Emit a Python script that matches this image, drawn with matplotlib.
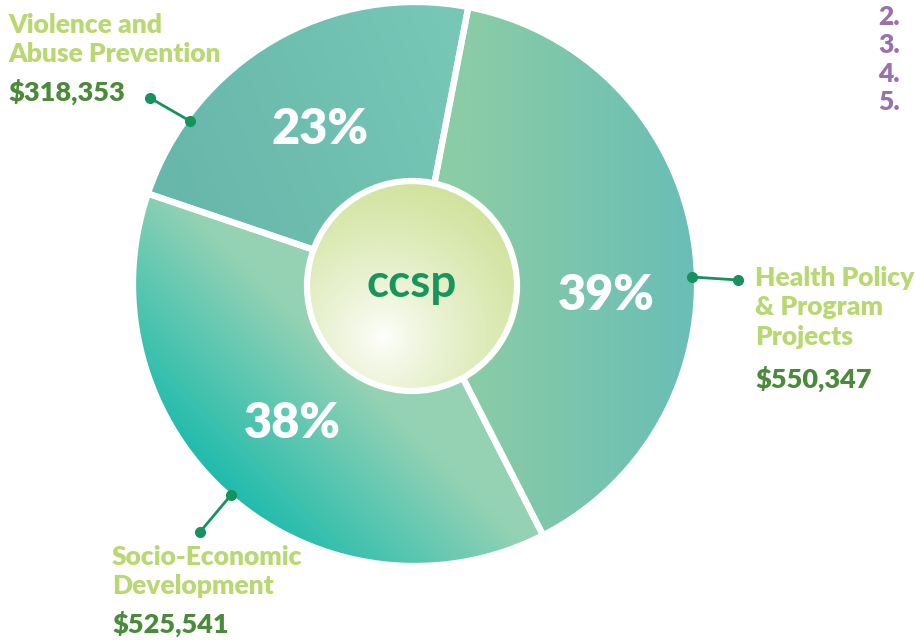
import numpy as np
import matplotlib
matplotlib.use("Agg")
import matplotlib.pyplot as plt
from matplotlib.patches import Wedge, Circle
from matplotlib.colors import to_rgb

# ---- data ----
categories = ["Health Policy\n& Program\nProjects", "Socio-Economic\nDevelopment", "Violence and\nAbuse Prevention"]
amounts = [550347, 525541, 318353]
amount_labels = ["$550,347", "$525,541", "$318,353"]
center_label = "ccsp"
side_numbers = ["2.", "3.", "4.", "5."]

W, H = 915, 640
fig = plt.figure(figsize=(W / 100, H / 100), dpi=100)
ax = fig.add_axes([0, 0, 1, 1])
ax.set_xlim(0, W)
ax.set_ylim(0, H)
ax.axis("off")

FONT = ["Lato", "DejaVu Sans"]
LIGHT = "#b9d872"
DARK = "#4a8a3a"
LINE = "#16935d"


def P(x, y):
    return (x, H - y)


def grad_image(clip, bbox, tfunc, c0, c1, z=1):
    x0, x1, y0, y1 = bbox
    n = 400
    X, Y = np.meshgrid(np.linspace(x0, x1, n), np.linspace(y0, y1, n))
    t = np.clip(tfunc(X, Y), 0, 1)[..., None]
    img = np.array(to_rgb(c0)) * (1 - t) + np.array(to_rgb(c1)) * t
    im = ax.imshow(img, extent=(x0, x1, y0, y1), origin="lower",
                   interpolation="bilinear", zorder=z, aspect="auto")
    im.set_clip_path(clip)


def linear(p0, p1):
    dx, dy = p1[0] - p0[0], p1[1] - p0[1]
    return lambda X, Y: ((X - p0[0]) * dx + (Y - p0[1]) * dy) / (dx * dx + dy * dy)


def radial(c, r, gamma=1.0):
    return lambda X, Y: (np.sqrt((X - c[0]) ** 2 + (Y - c[1]) ** 2) / r) ** gamma


# ---- donut geometry ----
cx, cy = P(415, 284)
R = 280
start = 79.1
total = sum(amounts)
fracs = [a / total for a in amounts]

grads = [
    (linear(P(470, 260), P(695, 260)), "#8acca6", "#69beb6"),
    (linear(P(200, 488), P(335, 353)), "#15b9ac", "#95d2b4"),
    (linear(P(170, 170), P(450, 60)), "#68b7ab", "#76c7b6"),
]

bbox = (cx - R - 5, cx + R + 5, cy - R - 5, cy + R + 5)
cum = 0.0
for i, f in enumerate(fracs):
    t2 = start - 360 * cum
    t1 = t2 - 360 * f
    cum += f
    clip = Wedge((cx, cy), R, t1, t2, transform=ax.transData, facecolor="none", edgecolor="none")
    g = grads[i]
    grad_image(clip, bbox, g[0], g[1], g[2], z=1)
    ax.add_patch(Wedge((cx, cy), R + 2, t1, t2, facecolor="none", edgecolor="white",
                       linewidth=4.5, zorder=2))

# ---- centre circle ----
icx, icy = P(412, 286)
ir = 105
circ_clip = Circle((icx, icy), ir, transform=ax.transData)
grad_image(circ_clip, (icx - ir, icx + ir, icy - ir, icy + ir),
           radial(P(383, 337), 165, 0.8), "#ffffff", "#cfe29a", z=3)
ax.add_patch(Circle((icx, icy), ir, facecolor="none", edgecolor="white", linewidth=4.5, zorder=4))
ax.text(icx, icy + 2, center_label, ha="center", va="center", fontsize=33,
        color="#17955c", family=FONT, fontweight="bold", zorder=5)

# ---- percentages ----
pct_pos = [P(606, 296), P(292, 424), P(320, 129)]
for f, pos in zip(fracs, pct_pos):
    ax.text(pos[0], pos[1], f"{round(f * 100)}%", ha="center", va="center",
            fontsize=35, color="white", family=FONT, fontweight="heavy", zorder=5)

# ---- labels & leaders ----
leaders = [(P(692, 277), P(738, 280)), (P(231, 495), P(200, 532)), (P(190, 121), P(150, 98))]
for a, b in leaders:
    ax.plot([a[0], b[0]], [a[1], b[1]], color=LINE, lw=2, zorder=6,
            marker="o", markersize=7, solid_capstyle="round")

label_pos = [P(755, 266), P(112, 545), P(8, 13)]
amount_pos = [P(755, 366), P(112, 611), P(8, 79)]
for cat, amt, lp, ap in zip(categories, amount_labels, label_pos, amount_pos):
    ax.text(lp[0], lp[1], cat, ha="left", va="top", fontsize=19, color=LIGHT,
            family=FONT, fontweight="heavy", linespacing=1.27, zorder=6)
    ax.text(ap[0], ap[1], amt, ha="left", va="top", fontsize=19.5, color=DARK,
            family=FONT, fontweight="heavy", zorder=6)

ax.text(878, H - 5, "\n".join(side_numbers), ha="left", va="top", fontsize=19,
        color="#9a71ab", family=FONT, fontweight="heavy", linespacing=1.22, zorder=6)

fig.savefig("out.png", dpi=100)
